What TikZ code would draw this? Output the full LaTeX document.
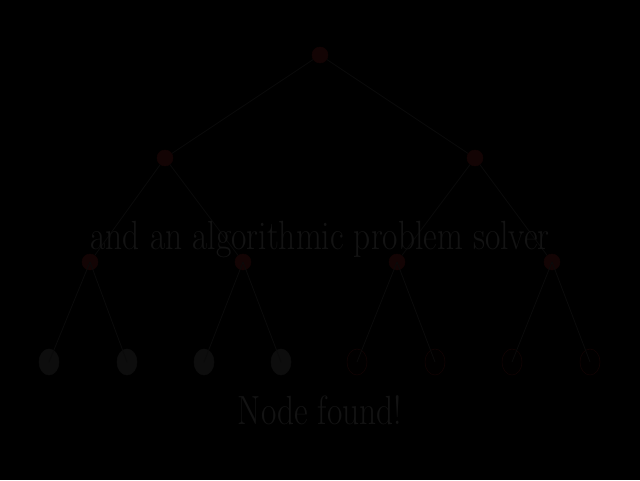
\documentclass[tikz,border=0pt]{standalone}
\usepackage{tikz}
\definecolor{edgegray}{HTML}{0A0A0A}
\definecolor{textgray}{HTML}{131313}
\definecolor{leafgray}{HTML}{0D0D0D}
\definecolor{darkred}{HTML}{130404}
\tikzstyle{inner}=[circle,fill=darkred,draw=darkred,minimum size=0.4cm,inner sep=0pt]
\tikzstyle{leaf}=[ellipse,fill=leafgray,draw=leafgray,minimum width=0.5cm,minimum height=0.65cm,inner sep=0pt]
\tikzstyle{redleaf}=[leaf,draw=darkred,fill=black!95!darkred]
\tikzstyle{edge}=[draw=edgegray,line width=0.6pt]
\tikzstyle{annot}=[align=center,text=textgray,font=\fontsize{29}{31}\selectfont,xscale=0.82]
\usetikzlibrary{shapes.geometric}
\begin{document}
\begin{tikzpicture}
	\fill[black] (0,0) rectangle (16,12);
	\useasboundingbox (0,0) rectangle (16,12);

	\node[inner](root) at (8,10.625){};
	\node[inner](n1) at (4.125,8.05){};
	\node[inner](n2) at (11.875,8.05){};
	\node[inner](n11) at (2.25,5.45){};
	\node[inner](n12) at (6.075,5.45){};
	\node[inner](n21) at (9.925,5.45){};
	\node[inner](n22) at (13.8,5.45){};

	\node[leaf](l1) at (1.225,2.95){};
	\node[leaf](l2) at (3.175,2.95){};
	\node[leaf](l3) at (5.1,2.95){};
	\node[leaf](l4) at (7.025,2.95){};
	\node[redleaf](l5) at (8.925,2.95){};
	\node[redleaf](l6) at (10.875,2.95){};
	\node[redleaf](l7) at (12.8,2.95){};
	\node[redleaf](l8) at (14.75,2.95){};

	\draw[edge] (root) -- (n1);
	\draw[edge] (root) -- (n2);
	\draw[edge] (n1) -- (n11);
	\draw[edge] (n1) -- (n12);
	\draw[edge] (n2) -- (n21);
	\draw[edge] (n2) -- (n22);
	\draw[edge] (n11.center) -- (l1.center);
	\draw[edge] (n11.center) -- (l2.center);
	\draw[edge] (n12.center) -- (l3.center);
	\draw[edge] (n12.center) -- (l4.center);
	\draw[edge] (n21.center) -- (l5.center);
	\draw[edge] (n21.center) -- (l6.center);
	\draw[edge] (n22.center) -- (l7.center);
	\draw[edge] (n22.center) -- (l8.center);

	\node[annot](solver) at (8,6.0){and an algorithmic problem solver};
	\node[annot](found) at (8,1.75){Node found!};
\end{tikzpicture}
\end{document}
